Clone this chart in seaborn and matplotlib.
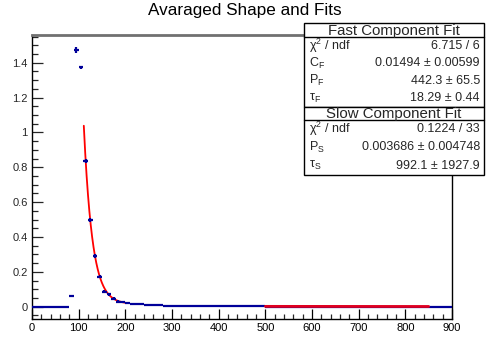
import numpy as np
import pandas as pd
import matplotlib
matplotlib.use("Agg")
import matplotlib.pyplot as plt
import seaborn as sns
from matplotlib.patches import Rectangle
from matplotlib.lines import Line2D
from matplotlib.ticker import MultipleLocator

# ---------------- data ----------------
bin_centers = list(range(5, 900, 10))
values = [0.0, 0.0, 0.0, 0.0, 0.0, 0.0, 0.0, 0.0,
          0.064, 1.473, 1.373, 0.834, 0.497, 0.289, 0.173, 0.087,
          0.072, 0.046, 0.030, 0.029, 0.022, 0.018, 0.015, 0.013,
          0.011, 0.010, 0.009, 0.008, 0.007, 0.006, 0.006, 0.005,
          0.005, 0.004, 0.004, 0.003, 0.003, 0.003, 0.003, 0.002,
          0.002, 0.002, 0.002, 0.002, 0.002, 0.002, 0.002, 0.002,
          0.002, 0.002, 0.001, 0.001, 0.001, 0.001, 0.001, 0.001,
          0.001, 0.001, 0.001, 0.001, 0.001, 0.001, 0.001, 0.001,
          0.001, 0.001, 0.001, 0.001, 0.001, 0.001, 0.001, 0.001,
          0.001, 0.001, 0.001, 0.001, 0.001, 0.001, 0.001, 0.001,
          0.001, 0.001, 0.001, 0.001, 0.001, 0.001, 0.001, 0.001,
          0.001, 0.001]
errors = [0.002] * 8 + [0.004, 0.016, 0.010, 0.012, 0.012, 0.011, 0.010, 0.009,
                        0.009, 0.009, 0.010, 0.006] + [0.002] * 70

# fit parameters as printed in the stat boxes
fast_C, fast_P, fast_tau = 0.01494, 442.3, 18.29
fast_range = (111, 200)
slow_P, slow_tau = 0.003686, 992.1
slow_range = (500, 850)

fast_rows = [(r"$\mathregular{\chi^{2}}$ / ndf", "6.715 / 6"),
             (r"$\mathregular{C_{F}}$", "0.01494 ± 0.00599"),
             (r"$\mathregular{P_{F}}$", "442.3 ± 65.5"),
             (r"$\mathregular{\tau_{F}}$", "18.29 ± 0.44")]
slow_rows = [(r"$\mathregular{\chi^{2}}$ / ndf", "0.1224 / 33"),
             (r"$\mathregular{P_{S}}$", "0.003686 ± 0.004748"),
             (r"$\mathregular{\tau_{S}}$", "992.1 ± 1927.9")]

# ---------------- style ----------------
sns.set_theme(style="white")
plt.rcParams["font.family"] = ["Liberation Sans", "DejaVu Sans"]
plt.rcParams["mathtext.fontset"] = "custom"
plt.rcParams["mathtext.rm"] = "Liberation Sans"
plt.rcParams["mathtext.it"] = "Liberation Sans:italic"

W, H = 489, 340
fig = plt.figure(figsize=(W / 100, H / 100), dpi=100)
fig.patch.set_facecolor("white")

def fx(px):
    return px / W

def fy(py):
    return 1 - py / H

ax = fig.add_axes([fx(32), fy(319.3), fx(452) - fx(32), fy(35) - fy(319.3)])
ax.set_facecolor("white")

df = pd.DataFrame({"x": bin_centers, "y": values, "err": errors})

# fast fit curve
xf = np.linspace(fast_range[0], fast_range[1], 300)
df_fast = pd.DataFrame({"x": xf, "y": fast_C + fast_P * np.exp(-xf / fast_tau)})
sns.lineplot(data=df_fast, x="x", y="y", ax=ax, color="#ff0000", lw=1.3, zorder=2)

# histogram with error bars
ax.errorbar(df["x"], df["y"], xerr=5, yerr=df["err"], fmt="none",
            ecolor="#000099", elinewidth=1.6, capsize=0, zorder=3)

# slow fit curve
xs = np.linspace(slow_range[0], slow_range[1], 200)
df_slow = pd.DataFrame({"x": xs, "y": slow_P * np.exp(-xs / slow_tau)})
sns.lineplot(data=df_slow, x="x", y="y", ax=ax, color="#e00020", lw=2.0, zorder=4)

ax.set_xlim(0, 900)
ax.set_ylim(-0.072, 1.559)
ax.set_xlabel("")
ax.set_ylabel("")

ax.xaxis.set_major_locator(MultipleLocator(100))
ax.xaxis.set_minor_locator(MultipleLocator(20))
ax.yaxis.set_major_locator(MultipleLocator(0.2))
ax.yaxis.set_minor_locator(MultipleLocator(0.05))
ax.set_yticks([0, 0.2, 0.4, 0.6, 0.8, 1.0, 1.2, 1.4])
ax.set_yticklabels(["0", "0.2", "0.4", "0.6", "0.8", "1", "1.2", "1.4"])
ax.tick_params(axis="x", which="major", direction="in", length=7, width=0.9,
               labelsize=8, pad=3, colors="black", bottom=True, top=False)
ax.tick_params(axis="x", which="minor", direction="in", length=3.5, width=0.9,
               bottom=True, top=False)
ax.tick_params(axis="y", which="major", direction="in", length=8, width=0.9,
               labelsize=8, pad=3, left=True, right=False)
ax.tick_params(axis="y", which="minor", direction="in", length=4, width=0.9,
               left=True, right=False)

for s in ["left", "bottom", "right"]:
    ax.spines[s].set_color("black")
    ax.spines[s].set_linewidth(1.0)
    ax.spines[s].set_visible(True)
ax.spines["top"].set_color("#707070")
ax.spines["top"].set_linewidth(2.0)
ax.spines["top"].set_visible(True)

# title
fig.text(fx(245), fy(11), "Avaraged Shape and Fits", ha="center", va="center",
         fontsize=12.3, color="black")

# stat boxes
bx0, bx1 = 304, 484

def stat_box(top, sep, bottom, title, rows):
    fig.patches.append(Rectangle((fx(bx0), fy(bottom)), fx(bx1) - fx(bx0),
                                 fy(top) - fy(bottom), transform=fig.transFigure,
                                 facecolor="white", edgecolor="black", lw=1.0,
                                 zorder=10))
    fig.lines.append(Line2D([fx(bx0), fx(bx1)], [fy(sep), fy(sep)],
                            transform=fig.transFigure, color="black", lw=1.0,
                            zorder=11))
    fig.text(fx((bx0 + bx1) / 2), fy((top + sep) / 2 + 0.5), title, ha="center",
             va="center", fontsize=10.8, zorder=12)
    h = (bottom - sep) / len(rows)
    for i, (lab, val) in enumerate(rows):
        yc = sep + h * (i + 0.5)
        fig.text(fx(bx0 + 5), fy(yc), lab, ha="left", va="center", fontsize=9,
                 zorder=12)
        fig.text(fx(bx1 - 4), fy(yc), val, ha="right", va="center", fontsize=9,
                 zorder=12)

stat_box(23, 37, 107, "Fast Component Fit", fast_rows)
stat_box(107, 120, 175, "Slow Component Fit", slow_rows)

fig.savefig("out.png", dpi=100, facecolor="white")
